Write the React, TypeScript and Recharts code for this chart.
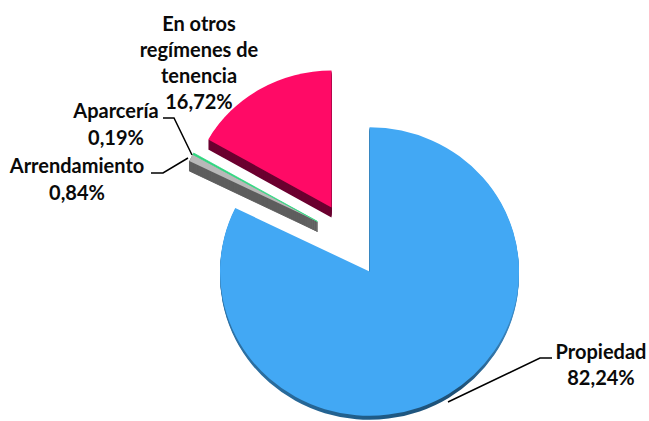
import { Pie, PieChart, Sector } from "recharts";

const CATEGORIES = ["Propiedad", "Arrendamiento", "Aparcería", "En otros regímenes de tenencia"];
const VALUES = [82.24, 0.84, 0.19, 16.72];
const VALUE_LABELS = ["82,24%", "0,84%", "0,19%", "16,72%"];

const data = CATEGORIES.map((name, i) => ({ name, value: VALUES[i] }));

const TILT = 0.965;
const FILLS = ["#42A8F4", "#B8B8B8", "#2FD67F", "#FF0A66"];
const SIDES = ["url(#rimBlue)", "#5E5E5E", "#3C8F63", "#6B0030"];
const DEPTH = [4, 10, 0, 10];
// the pulled out slices look a bit smaller in the original's perspective
const SHRINK = [1, 0.955, 0.955, 0.95];
// how far each slice is pulled out of the pie
const EXPLODE = [
  [0, 0],
  [-52, -50],
  [-52, -50],
  [-38, -64],
];

const LABEL_LINES = [
  ["Propiedad"],
  ["Arrendamiento"],
  ["Aparcería"],
  ["En otros", "regímenes de", "tenencia"],
];
const LABEL_POS = [
  { x: 601, y: 359, step: 26 },
  { x: 77, y: 173, step: 27 },
  { x: 116, y: 118, step: 27 },
  { x: 199, y: 31, step: 26 },
];
const LEADERS = [
  "448,402 540,358 552,358",
  "151,173 163,173 188,158",
  "163,118 174,118 192,155",
  "",
];

const renderSlice = (props: any) => {
  const { cx, cy, outerRadius, startAngle, endAngle, index } = props;
  const [dx, dy] = EXPLODE[index];
  const k = SHRINK[index];
  const place = (y: number) =>
    `translate(${dx} ${dy + y}) translate(${cx} ${cy}) scale(${k} ${k * TILT}) translate(${-cx} ${-cy})`;
  const base = { cx, cy, innerRadius: 0, outerRadius, startAngle, endAngle };
  const steps = Array.from({ length: DEPTH[index] }, (_, i) => DEPTH[index] - i);
  // the sliver needs a thin outline or its narrow end fades away
  const thin = index === 1 || index === 2;
  return (
    <g>
      {steps.map((y) => (
        <g key={y} transform={place(y)}>
          <Sector {...base} fill={SIDES[index]} stroke={thin ? SIDES[index] : "none"} strokeWidth={thin ? 1 : 0} />
        </g>
      ))}
      <g transform={place(0)}>
        <Sector
          {...base}
          fill={FILLS[index]}
          stroke={index === 2 ? FILLS[index] : "none"}
          strokeWidth={index === 2 ? 0.8 : 0}
        />
      </g>
    </g>
  );
};

const renderLabel = ({ index }: any) => {
  const pos = LABEL_POS[index];
  const lines = [...LABEL_LINES[index], VALUE_LABELS[index]];
  return (
    <g key={index}>
      {LEADERS[index] && <polyline points={LEADERS[index]} fill="none" stroke="#000" strokeWidth={1.5} />}
      <text
        x={pos.x}
        y={pos.y}
        textAnchor="middle"
        fontFamily="Lato, sans-serif"
        fontWeight={700}
        fontSize={20}
        fill="#0a0a0a"
      >
        {lines.map((line, i) => (
          <tspan key={i} x={pos.x} y={pos.y + i * pos.step}>
            {line}
          </tspan>
        ))}
      </text>
    </g>
  );
};

export default function App() {
  return (
    <div style={{ position: "absolute", left: 0, top: 0 }}>
      <PieChart width={649} height={421} margin={{ top: 0, right: 0, bottom: 0, left: 0 }}>
        <defs>
          <linearGradient id="rimBlue" x1="0" y1="0" x2="1" y2="0">
            <stop offset="0" stopColor="#2F74A8" />
            <stop offset="0.5" stopColor="#1F5C88" />
            <stop offset="0.8" stopColor="#1E4F74" />
            <stop offset="1" stopColor="#3F8FCC" />
          </linearGradient>
        </defs>
        <Pie
          data={data}
          dataKey="value"
          nameKey="name"
          cx={369.5}
          cy={271.5}
          outerRadius={149.5}
          startAngle={90}
          endAngle={-270}
          stroke="none"
          shape={renderSlice}
          label={renderLabel}
          labelLine={false}
          isAnimationActive={false}
        />
      </PieChart>
    </div>
  );
}
